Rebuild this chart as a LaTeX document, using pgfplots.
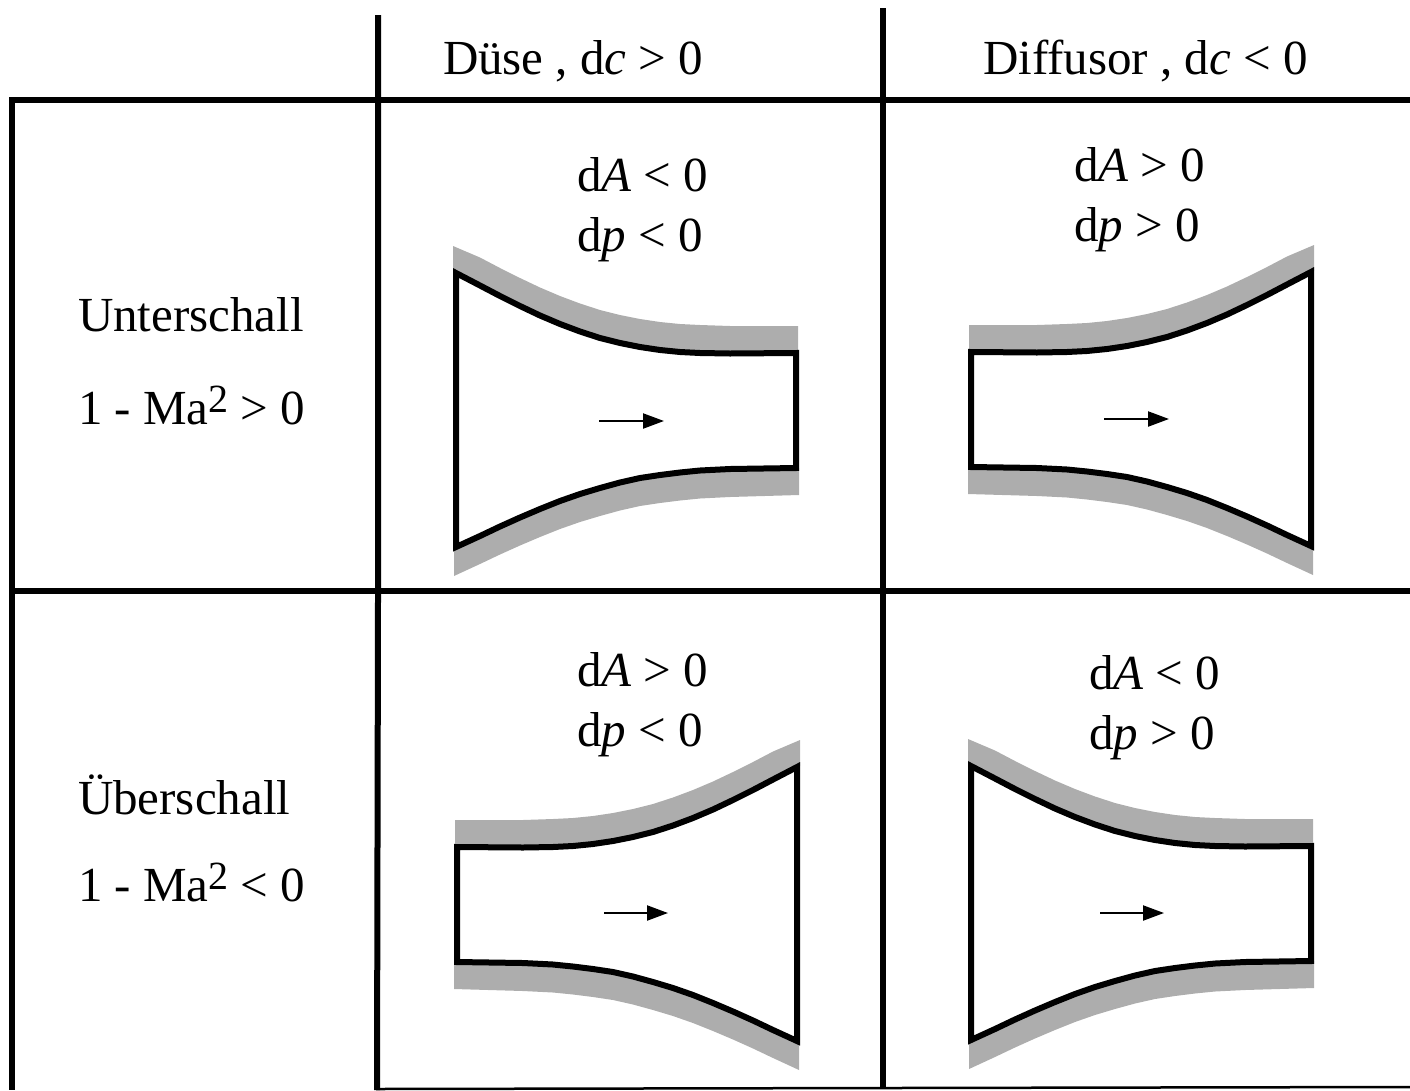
\documentclass[border=0pt]{standalone}
\usepackage{fontspec}
\setmainfont{Liberation Serif}
\usepackage{pgfplots}
\usepackage{pgfplotstable}
\pgfplotsset{compat=1.18}
\usetikzlibrary{arrows.meta}
\definecolor{wall}{HTML}{ADADAD}
\newcommand{\sq}{\raisebox{12pt}{\fontsize{40}{40}\selectfont 2}}
% duct outline, upper-left duct of the table, in picture pixels
\pgfplotstableread{
x y
456 273
480 285.5
500 296
520 306
540 315.5
560 324
580 331.5
600 338
620 343
640 347
660 350
680 352
700 353
730 353.5
796 353
796 468
730 469
700 470.5
680 472.5
660 475
640 478
620 482.5
600 488
580 494
560 501
540 509
520 517.5
500 526.5
480 536
456 547
}\ductoutline
\pgfplotstableread{
x y
453 246
480 257.5
500 268
520 278
540 287.5
560 296
580 303.5
600 310
620 315
640 319
660 322
680 324
700 325
730 326
798 326
798 353
730 353.5
700 353
680 352
660 350
640 347
620 343
600 338
580 331.5
560 324
540 315.5
520 306
500 296
480 285.5
453 272
}\wallupper
\pgfplotstableread{
x y
454 576
480 564
500 554.5
520 545.5
540 537
560 529
580 522
600 516
620 510.5
640 506
660 503
680 500.5
700 498.5
730 497
799 495
799 468
730 469
700 470.5
680 472.5
660 475
640 478
620 482.5
600 488
580 494
560 501
540 509
520 517.5
500 526.5
480 536
454 548
}\walllower
\pgfplotsset{
  wall/.style={fill=wall,draw=none,forget plot},
  duct/.style={fill=white,draw=black,line width=6pt,line join=miter,forget plot},
  rule/.style={black,line width=#1,line cap=butt,forget plot},
  flow/.style={black,line width=2.2pt,forget plot,-{Triangle[length=21pt,width=15pt]}},
}
\tikzset{lbl/.style={anchor=base west,inner sep=0pt,outer sep=0pt,font=\fontsize{49}{52}\selectfont}}
% sign, x offset, y offset
\newcommand{\nozzle}[3]{%
  \addplot[wall] table[x expr=#1*\thisrow{x}+#2,y expr=\thisrow{y}+#3] {\wallupper} -- cycle;
  \addplot[wall] table[x expr=#1*\thisrow{x}+#2,y expr=\thisrow{y}+#3] {\walllower} -- cycle;
  \addplot[duct] table[x expr=#1*\thisrow{x}+#2,y expr=\thisrow{y}+#3] {\ductoutline} -- cycle;
}
\begin{document}
\begin{tikzpicture}
\begin{axis}[
  at={(0,0)},
  width=1410pt,height=1090pt,scale only axis,
  xmin=0,xmax=1410,ymin=0,ymax=1090,
  y dir=reverse,
  hide axis,
  clip=true,
]
\nozzle{1}{0}{0}
\nozzle{-1}{1767}{-1}
\nozzle{-1}{1253}{494}
\nozzle{1}{515}{493}
% flow arrows
\addplot[flow] coordinates {(599,421) (664,421)};
\addplot[flow] coordinates {(1104,419) (1169,419)};
\addplot[flow] coordinates {(604,913) (668,913)};
\addplot[flow] coordinates {(1100,913) (1164,913)};
% table rules
\addplot[rule=6.5pt] coordinates {(9,100) (1410,100)};
\addplot[rule=6pt] coordinates {(9,591) (1410,591)};
\addplot[rule=6pt] coordinates {(12,97) (12,1090)};
\addplot[rule=6pt] coordinates {(378,15) (378,600) (377,1090)};
\addplot[rule=6pt] coordinates {(883,8) (883,1088)};
\addplot[rule=2.5pt] coordinates {(376,1089) (1410,1087)};
% header
\node[lbl] at (axis cs:443,74) {Düse , d\textit{c} > 0};
\node[lbl] at (axis cs:983,74) {Diffusor , d\textit{c} < 0};
% row labels
\node[lbl] at (axis cs:78,331) {Unterschall};
\node[lbl] at (axis cs:78,424) {1 - Ma\sq{} > 0};
\node[lbl] at (axis cs:78,814) {Überschall};
\node[lbl] at (axis cs:78,901) {1 - Ma\sq{} < 0};
% cell labels
\node[lbl] at (axis cs:577,191) {d\textit{A} < 0};
\node[lbl] at (axis cs:577,251) {d\textit{p} < 0};
\node[lbl] at (axis cs:1074,181) {d\textit{A} > 0};
\node[lbl] at (axis cs:1074,241) {d\textit{p} > 0};
\node[lbl] at (axis cs:577,686) {d\textit{A} > 0};
\node[lbl] at (axis cs:577,746) {d\textit{p} < 0};
\node[lbl] at (axis cs:1089,689) {d\textit{A} < 0};
\node[lbl] at (axis cs:1089,749) {d\textit{p} > 0};
\end{axis}
\pgfresetboundingbox
\path[use as bounding box] (0,0) rectangle (1410pt,1090pt);
\end{tikzpicture}
\end{document}
